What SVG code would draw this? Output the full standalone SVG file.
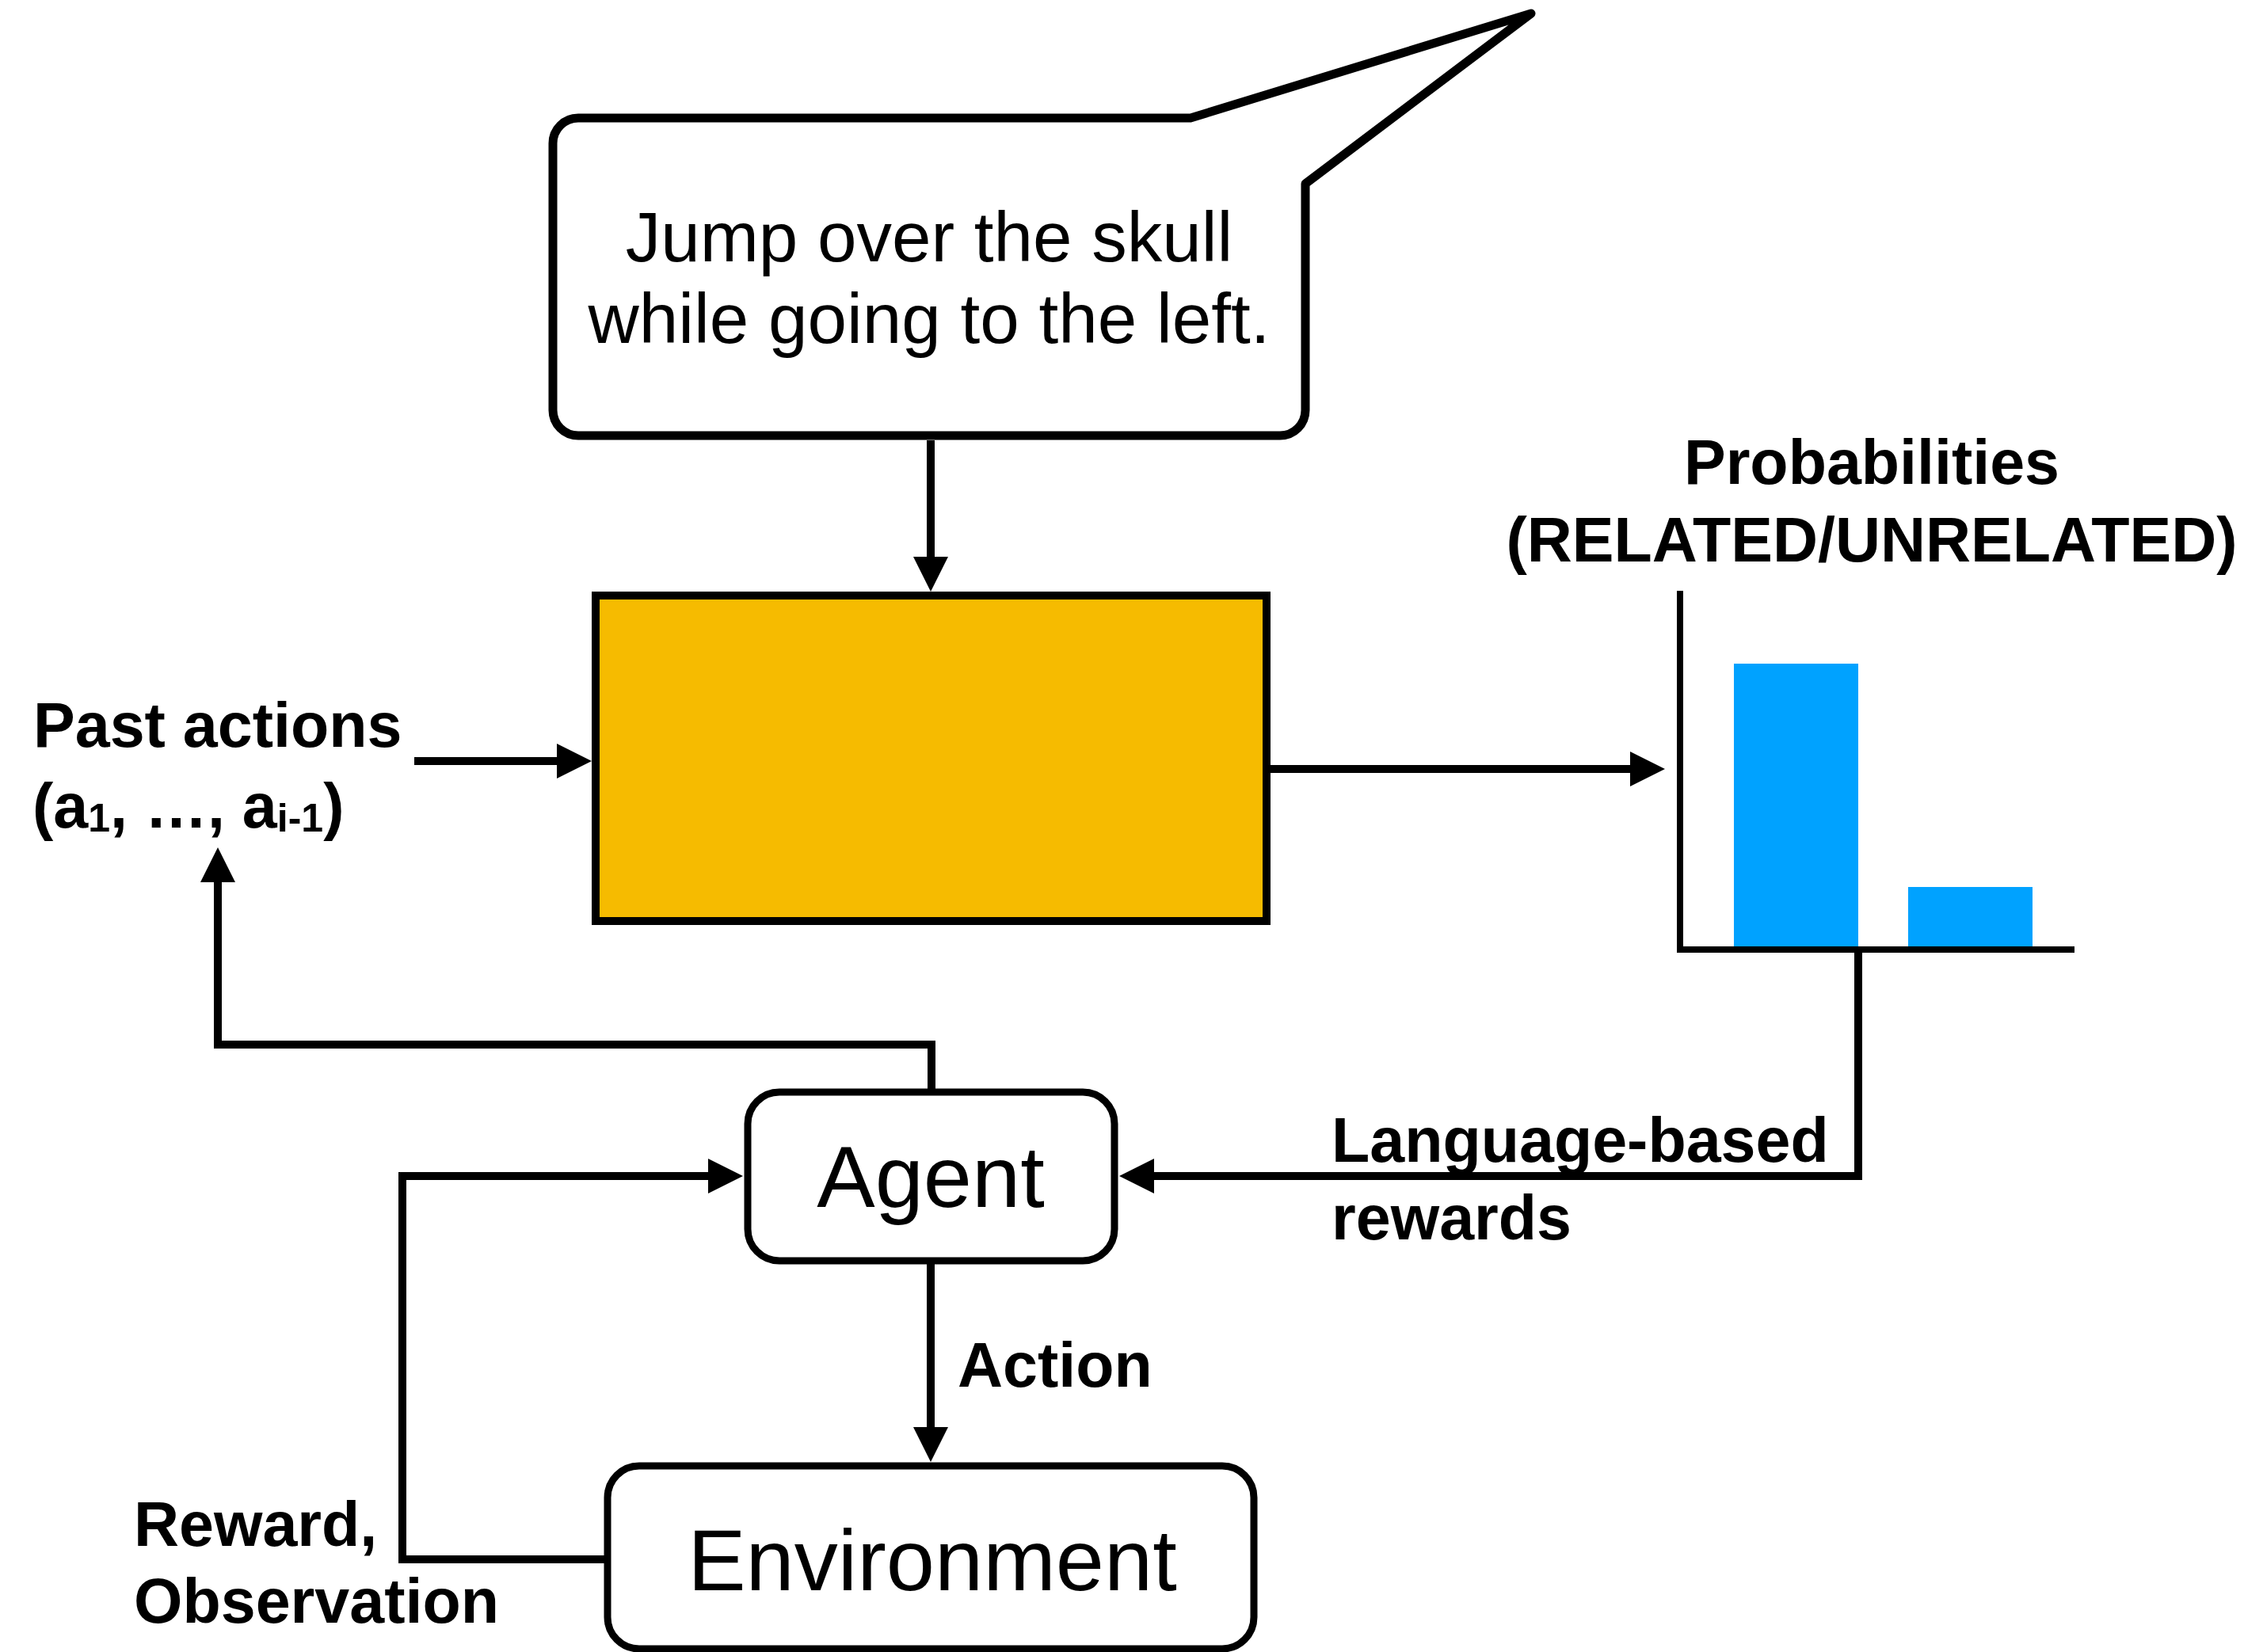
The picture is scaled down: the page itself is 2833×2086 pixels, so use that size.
<svg xmlns="http://www.w3.org/2000/svg" width="2833" height="2086" viewBox="0 0 2833 2086">
  <style>
    text { font-family: "Liberation Sans", Arial, Helvetica, sans-serif; fill: #000; }
    .lbl { font-weight: bold; font-size: 79px; }
    .big { font-size: 110px; }
    .say { font-size: 89px; }
    .box { fill: #fff; stroke: #000; stroke-width: 9; }
    .wire { fill: none; stroke: #000; stroke-width: 10; stroke-linejoin: miter; }
    .axis { fill: none; stroke: #000; stroke-width: 8; }
    .bar { fill: #00A2FF; }
  </style>
  <defs>
    <marker id="head" markerUnits="userSpaceOnUse" viewBox="0 0 44 44" markerWidth="44" markerHeight="44" refX="2" refY="22" orient="auto">
      <path d="M0,0 L44,22 L0,44 Z" fill="#000"/>
    </marker>
  </defs>

  <!-- instruction speech bubble -->
  <g id="instruction">
    <path d="M1503,149 H730 A32,32 0 0 0 698,181 V518 A32,32 0 0 0 730,550 H1616 A32,32 0 0 0 1648,518 V232 L1933,17 Z" fill="#fff" stroke="#000" stroke-width="11" stroke-linejoin="round"/>
    <text class="say" x="1173" y="330" text-anchor="middle">Jump over the skull</text>
    <text class="say" x="1173" y="433" text-anchor="middle">while going to the left.</text>
  </g>

  <!-- relatedness model -->
  <g id="model">
    <rect x="752" y="752" width="847" height="411" fill="#F6BB00" stroke="#000" stroke-width="10"/>
  </g>

  <!-- past actions input -->
  <g id="past-actions">
    <text class="lbl" x="42" y="943" font-size="78">Past actions</text>
    <text class="lbl" x="41" y="1045" font-size="78">(a<tspan font-size="50" dy="5">1</tspan><tspan dy="-5">, …, a</tspan><tspan font-size="50" dy="5">i-1</tspan><tspan dy="-5">)</tspan></text>
  </g>

  <!-- output probabilities chart -->
  <g id="probabilities">
    <text class="lbl" x="2363" y="611" text-anchor="middle">Probabilities</text>
    <text class="lbl" x="2363" y="709" text-anchor="middle" font-size="78">(RELATED/UNRELATED)</text>
    <rect class="bar" x="2189" y="838" width="157" height="358"/>
    <rect class="bar" x="2409" y="1120" width="157" height="76"/>
    <path class="axis" d="M2121,746 V1199 H2619"/>
  </g>

  <!-- agent -->
  <g id="agent">
    <rect class="box" x="944" y="1379" width="463" height="213" rx="40" ry="40"/>
    <text class="big" x="1175" y="1524" text-anchor="middle">Agent</text>
  </g>

  <!-- environment -->
  <g id="environment">
    <rect class="box" x="767" y="1851" width="816" height="231" rx="40" ry="40"/>
    <text class="big" x="1177" y="2008" text-anchor="middle">Environment</text>
  </g>

  <!-- connectors -->
  <g id="connectors">
    <path class="wire" d="M1175,556 V705" marker-end="url(#head)"/>
    <path class="wire" d="M523,961 H705" marker-end="url(#head)"/>
    <path class="wire" d="M1604,971 H2060" marker-end="url(#head)"/>
    <path class="wire" d="M2346,1203 V1485 H1455" marker-end="url(#head)"/>
    <path class="wire" d="M1176,1376 V1319 H275 V1112" marker-end="url(#head)"/>
    <path class="wire" d="M1175,1596 V1804" stroke-width="9" marker-end="url(#head)"/>
    <path class="wire" d="M763,1969 H508 V1485 H896" marker-end="url(#head)"/>
  </g>

  <!-- connector labels -->
  <g id="labels">
    <text class="lbl" x="1681" y="1467">Language-based</text>
    <text class="lbl" x="1681" y="1565">rewards</text>
    <text class="lbl" x="1209" y="1751" font-size="78">Action</text>
    <text class="lbl" x="169" y="1952">Reward,</text>
    <text class="lbl" x="169" y="2049">Observation</text>
  </g>
</svg>
